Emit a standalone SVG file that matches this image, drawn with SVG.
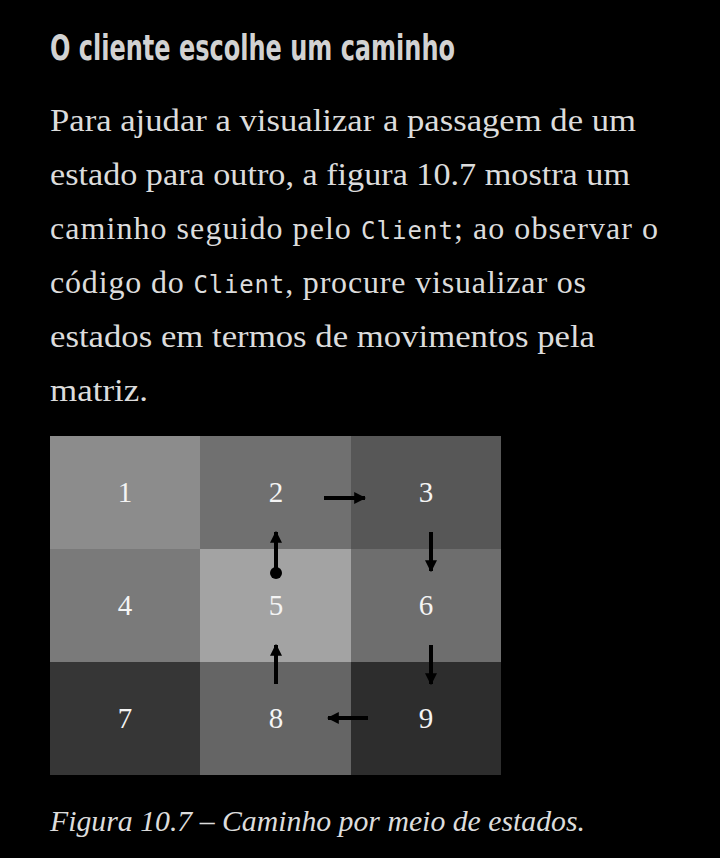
<svg xmlns="http://www.w3.org/2000/svg" width="720" height="858" viewBox="0 0 720 858">
<defs>
<style>
.h{font-family:"Liberation Sans Narrow","DejaVu Sans Condensed","Liberation Sans",sans-serif;font-weight:bold;font-size:36px;fill:#d2d2d2}
.b{font-family:"Liberation Serif","DejaVu Serif",serif;font-size:32px;fill:#dcdcdc}
.m{font-family:"DejaVu Sans Mono","Liberation Mono",monospace;font-size:24px}
.c{font-family:"Liberation Serif","DejaVu Serif",serif;font-style:italic;font-size:30px;fill:#dcdcdc}
.n{font-family:"Liberation Serif","DejaVu Serif",serif;font-size:29px;fill:#f4f4f4;text-anchor:middle}
.a{stroke:#000;stroke-width:4;fill:none}
</style>
<marker id="ah" viewBox="0 0 10 10" refX="9" refY="5" markerWidth="12" markerHeight="13" markerUnits="userSpaceOnUse" orient="auto">
<path d="M0,0 L10,5 L0,10 z" fill="#000"/>
</marker>
</defs>
<rect width="720" height="858" fill="#000"/>
<text class="h" x="50" y="60" textLength="405" lengthAdjust="spacingAndGlyphs">O cliente escolhe um caminho</text>
<g id="body">
<text class="b" x="50" y="131" textLength="586" lengthAdjust="spacingAndGlyphs">Para ajudar a visualizar a passagem de um</text>
<text class="b" x="50" y="185" textLength="580" lengthAdjust="spacingAndGlyphs">estado para outro, a figura 10.7 mostra um</text>
<text class="b" x="50" y="239" textLength="608" lengthAdjust="spacing">caminho seguido pelo <tspan class="m">Client</tspan>; ao observar o</text>
<text class="b" x="50" y="293" textLength="536" lengthAdjust="spacing">código do <tspan class="m">Client</tspan>, procure visualizar os</text>
<text class="b" x="50" y="347" textLength="545" lengthAdjust="spacingAndGlyphs">estados em termos de movimentos pela</text>
<text class="b" x="50" y="401" textLength="98" lengthAdjust="spacingAndGlyphs">matriz.</text>
</g>
<g id="grid">
<rect x="50" y="436" width="150" height="113" fill="#8c8c8c"/>
<rect x="200" y="436" width="151" height="113" fill="#707070"/>
<rect x="351" y="436" width="150" height="113" fill="#575757"/>
<rect x="50" y="549" width="150" height="113" fill="#7a7a7a"/>
<rect x="200" y="549" width="151" height="113" fill="#a3a3a3"/>
<rect x="351" y="549" width="150" height="113" fill="#6e6e6e"/>
<rect x="50" y="662" width="150" height="113" fill="#363636"/>
<rect x="200" y="662" width="151" height="113" fill="#656565"/>
<rect x="351" y="662" width="150" height="113" fill="#2d2d2d"/>
</g>
<g id="n1"><text class="n" x="125" y="502">1</text></g>
<g id="n2"><text class="n" x="276" y="502">2</text></g>
<g id="n3"><text class="n" x="426" y="502">3</text></g>
<g id="n4"><text class="n" x="125" y="615">4</text></g>
<g id="n5"><text class="n" x="276" y="615">5</text></g>
<g id="n6"><text class="n" x="426" y="615">6</text></g>
<g id="n7"><text class="n" x="125" y="728">7</text></g>
<g id="n8"><text class="n" x="276" y="728">8</text></g>
<g id="n9"><text class="n" x="426" y="728">9</text></g>
<g id="connectors">
<circle cx="276" cy="573" r="6" fill="#000"/>
<line class="a" x1="276" y1="573" x2="276" y2="532" marker-end="url(#ah)"/>
<line class="a" x1="324" y1="498" x2="365" y2="498" marker-end="url(#ah)"/>
<line class="a" x1="431" y1="532" x2="431" y2="571" marker-end="url(#ah)"/>
<line class="a" x1="431" y1="645" x2="431" y2="684" marker-end="url(#ah)"/>
<line class="a" x1="368" y1="718" x2="328" y2="718" marker-end="url(#ah)"/>
<line class="a" x1="276" y1="684" x2="276" y2="645" marker-end="url(#ah)"/>
</g>
<text class="c" x="50" y="831" textLength="535" lengthAdjust="spacingAndGlyphs">Figura 10.7 – Caminho por meio de estados.</text>
</svg>
